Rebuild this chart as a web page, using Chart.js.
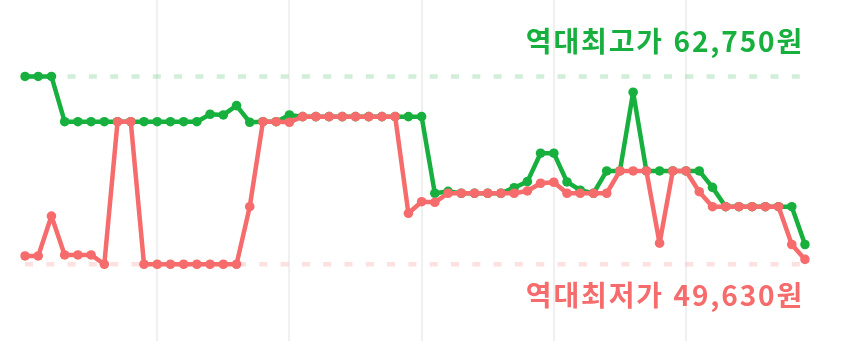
<!DOCTYPE html>
<html lang="ko">
<head>
<meta charset="utf-8">
<script src="https://cdn.jsdelivr.net/npm/chart.js@4"></script>
<style>
  html, body { margin: 0; padding: 0; background: #ffffff; }
  #wrap { position: relative; width: 849px; height: 341px; overflow: hidden; }
  canvas { position: absolute; left: 0; top: 0; }
  .lbl { position: absolute; right: 45px; font-family: "Noto Sans CJK KR", "Noto Sans", sans-serif; font-size: 28px; line-height: 28px; font-weight: 600; letter-spacing: 1.85px; white-space: nowrap; }
  #hi { top: 26px; color: #17b03e; }
  #lo { top: 280px; color: #f66b6b; }
</style>
</head>
<body>
<div id="wrap">
  <canvas id="c" width="849" height="341"></canvas>
  <div class="lbl" id="hi">역대최고가 62,750원</div>
  <div class="lbl" id="lo">역대최저가 49,630원</div>
</div>
<script>
const labels = ["1","2","3","4","5","6","7","8","9","10",
  "11","12","13","14","15","16","17","18","19","20",
  "21","22","23","24","25","26","27","28","29","30",
  "31","32","33","34","35","36","37","38","39","40",
  "41","42","43","44","45","46","47","48","49","50",
  "51","52","53","54","55","56","57","58","59","60"];

const highPrices = [62750,62750,62750,59590,59590,59590,59590,59590,59590,59590,
  59590,59590,59590,59590,60110,60060,60710,59550,59590,59590,
  60060,59940,59940,59940,59940,59940,59940,59940,59940,59940,
  59940,54590,54720,54590,54590,54590,54590,54980,55400,57390,
  57390,55380,54800,54590,56150,56150,61650,56150,56150,56150,
  56150,56150,55000,53650,53650,53650,53650,53650,53650,51010];

const lowPrices = [50210,50210,53000,50280,50280,50280,49630,59590,59590,49630,
  49630,49630,49630,49630,49630,49630,49630,53650,59590,59590,
  59550,59940,59940,59940,59940,59940,59940,59940,59940,53190,
  54000,53960,54590,54590,54590,54590,54590,54590,54750,55290,
  55360,54590,54590,54590,54590,56150,56150,56150,51100,56150,
  56150,54700,53650,53650,53650,53650,53650,53650,51010,49970];

const allTimeHigh = 62750;
const allTimeLow = 49630;

const GREEN = '#17b03e';
const RED = '#f66b6b';

const highLine = labels.map(() => allTimeHigh);
const lowLine = labels.map(() => allTimeLow);

const lineStyle = { borderWidth: 4.5, pointRadius: 4.8, pointHoverRadius: 4.8, pointBorderWidth: 0, tension: 0, borderJoinStyle: 'round', borderCapStyle: 'round' };

new Chart(document.getElementById('c'), {
  type: 'line',
  data: {
    labels: labels,
    datasets: [
      Object.assign({ data: lowPrices, borderColor: RED, backgroundColor: RED, order: 0 }, lineStyle),
      Object.assign({ data: highPrices, borderColor: GREEN, backgroundColor: GREEN, order: 1 }, lineStyle),
      { data: highLine, borderColor: 'rgba(23,176,62,0.2)', borderWidth: 4.5, borderDash: [8, 13.3], borderCapStyle: 'butt', pointRadius: 0, order: 2 },
      { data: lowLine, borderColor: 'rgba(246,107,107,0.2)', borderWidth: 4.5, borderDash: [8, 13.3], borderCapStyle: 'butt', pointRadius: 0, order: 3 }
    ]
  },
  options: {
    responsive: false,
    animation: false,
    devicePixelRatio: 1,
    layout: { autoPadding: false, padding: { left: 25, right: 44, top: 0, bottom: 0 } },
    plugins: { legend: { display: false }, tooltip: { enabled: false } },
    scales: {
      x: {
        display: true,
        border: { display: false },
        ticks: { display: false, autoSkip: false, padding: 0 },
        grid: {
          drawTicks: false,
          lineWidth: 2,
          color: (ctx) => (ctx.index % 10 === 0 && ctx.index > 0) ? '#f0f0f0' : 'rgba(0,0,0,0)'
        }
      },
      y: { display: false, min: 44270, max: 68090 }
    }
  }
});
</script>
</body>
</html>
